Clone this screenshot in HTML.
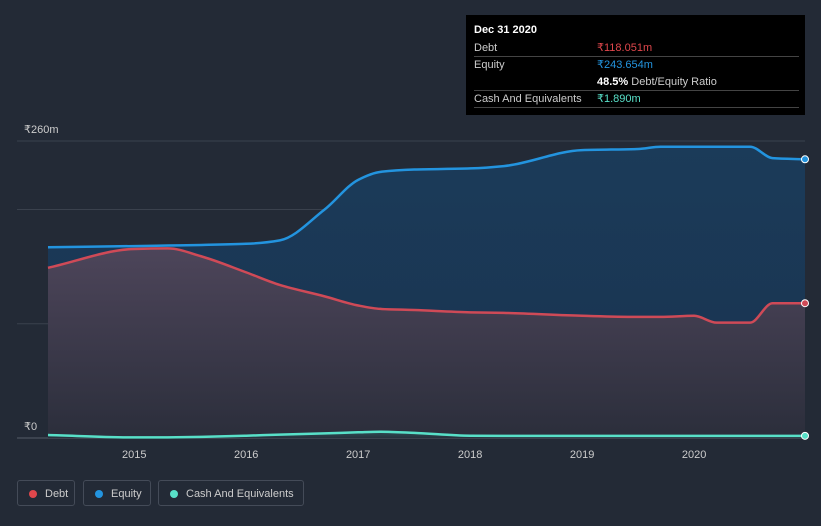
<!DOCTYPE html>
<html><head><meta charset="utf-8"><style>
body{margin:0;background:#232a36;font-family:"Liberation Sans",sans-serif;}
#wrap{position:relative;width:821px;height:526px;overflow:hidden;background:#232a36;}
.tt{position:absolute;left:466px;top:15px;width:339px;height:100px;background:#000;color:#ccc;font-size:11px;}
.tt .row{position:absolute;left:8px;right:6px;border-bottom:1px solid #444;height:16px;line-height:16px;}
.tt .v{position:absolute;left:123px;}
.leg{position:absolute;top:480px;height:26px;border:1px solid #444b58;border-radius:3px;color:#ccc;font-size:11px;line-height:26px;box-sizing:border-box;padding-left:27px;}
.leg i{position:absolute;left:11px;top:9px;width:8px;height:8px;border-radius:50%;}
</style></head><body>
<div id="wrap">
<svg id="chart" width="821" height="526" style="position:absolute;left:0;top:0">
<defs>
<linearGradient id="gd" x1="0" y1="0" x2="0" y2="1"><stop offset="0" stop-color="#4d455a"/><stop offset="1" stop-color="#2b2e3b"/></linearGradient>
<linearGradient id="ge" x1="0" y1="0" x2="0" y2="1"><stop offset="0" stop-color="#1b3b59"/><stop offset="1" stop-color="#1a3350"/></linearGradient>
<linearGradient id="gc" x1="0" y1="0" x2="0" y2="1"><stop offset="0" stop-color="#2f4a52"/><stop offset="1" stop-color="#27323d"/></linearGradient>
</defs>
</svg>
<div class="tt">
 <div style="position:absolute;left:8px;top:9px;color:#fff;font-weight:bold">Dec 31 2020</div>
 <div class="row" style="top:25px">Debt<span class="v" style="color:#e0474c">₹118.051m</span></div>
 <div class="row" style="top:42px;border:none">Equity<span class="v" style="color:#2394df">₹243.654m</span></div>
 <div class="row" style="top:59px"><span class="v"><b style="color:#fff">48.5%</b> Debt/Equity Ratio</span></div>
 <div class="row" style="top:76px">Cash And Equivalents<span class="v" style="color:#58e0c8">₹1.890m</span></div>
</div>
<div class="leg" style="left:17px;width:58px"><i style="background:#e0474c"></i>Debt</div>
<div class="leg" style="left:83px;width:68px"><i style="background:#2394df"></i>Equity</div>
<div class="leg" style="left:158px;width:146px"><i style="background:#58e0c8"></i>Cash And Equivalents</div>
</div>
<script>
const years=[2014.23,2015,2015.3,2015.6,2016,2016.3,2016.7,2017,2017.2,2017.5,2018,2018.3,2019,2019.5,2019.7,2020,2020.2,2020.5,2020.7,2020.99];
const equity=[167,168,168.5,169,170,173,200,226,233,235,236,238,252,253,255,255,255,255,245,244];
const debt=[149,165.5,166,159,145,134,124,116,113,112,110,109.5,107,106,106,107,101,101,118,118];
const cash=[2.6,0.5,0.6,1,2,3,4,5,5.5,4.5,2,1.9,1.9,1.9,1.9,1.9,1.9,1.9,1.9,1.89];
const yTicks=[0,100,200,260];
const yLabels={0:"₹0",260:"₹260m"};
const xTicks=[2015,2016,2017,2018,2019,2020];
const X=t=>48+(t-2014.23)*(805-48)/(2020.99-2014.23);
const Y=v=>438-v*(438-141)/260;
const svg=document.getElementById('chart');const NS='http://www.w3.org/2000/svg';
function mk(tag,attrs,name){const e=document.createElementNS(NS,tag);for(const k in attrs)e.setAttribute(k,attrs[k]);


svg.appendChild(e);return e;}
yTicks.forEach(v=>{mk('line',{x1:17,x2:805,y1:Y(v),y2:Y(v),stroke:v===0?'#555c68':'#3a414d','stroke-width':1},'gridline');
if(yLabels[v]!==undefined){const t=mk('text',{x:24,y:Y(v)-8,fill:'#ccc','font-size':11},'y-tick-label');t.textContent=yLabels[v];}});
xTicks.forEach(v=>{const t=mk('text',{x:X(v),y:458,fill:'#ccc','font-size':11,'text-anchor':'middle'},'x-tick-label');t.textContent=v;});
function path(vals){
 const xs=years.map(X),ys=vals.map(Y),n=xs.length;
 const d=[],m=[];
 for(let i=0;i<n-1;i++)d.push((ys[i+1]-ys[i])/(xs[i+1]-xs[i]));
 m[0]=d[0];m[n-1]=d[n-2];
 for(let i=1;i<n-1;i++){ if(d[i-1]*d[i]<=0)m[i]=0; else m[i]=2/(1/d[i-1]+1/d[i]); }
 let s='M'+xs[0]+','+ys[0];
 for(let i=0;i<n-1;i++){const h=(xs[i+1]-xs[i])/3;
  s+=`C${xs[i]+h},${ys[i]+m[i]*h} ${xs[i+1]-h},${ys[i+1]-m[i+1]*h} ${xs[i+1]},${ys[i+1]}`;}
 return s;}
const base=`L${X(years[years.length-1])},${Y(0)}L${X(years[0])},${Y(0)}Z`;
mk('path',{d:path(equity)+base,fill:'url(#ge)'},'equity-area');
mk('path',{d:path(debt)+base,fill:'url(#gd)'},'debt-area');
mk('path',{d:path(cash)+base,fill:'url(#gc)'},'cash-area');
[[equity,'#2394df','equity-line'],[debt,'#cf4a57','debt-line'],[cash,'#58e0c8','cash-line']].forEach(([v,c,n])=>{
mk('path',{d:path(v),fill:'none',stroke:c,'stroke-width':2.5},n);
mk('circle',{cx:X(years[years.length-1]),cy:Y(v[v.length-1]),r:3.5,fill:c,stroke:'#fff','stroke-width':1},n+'-end-marker');});
</script>
</body></html>
